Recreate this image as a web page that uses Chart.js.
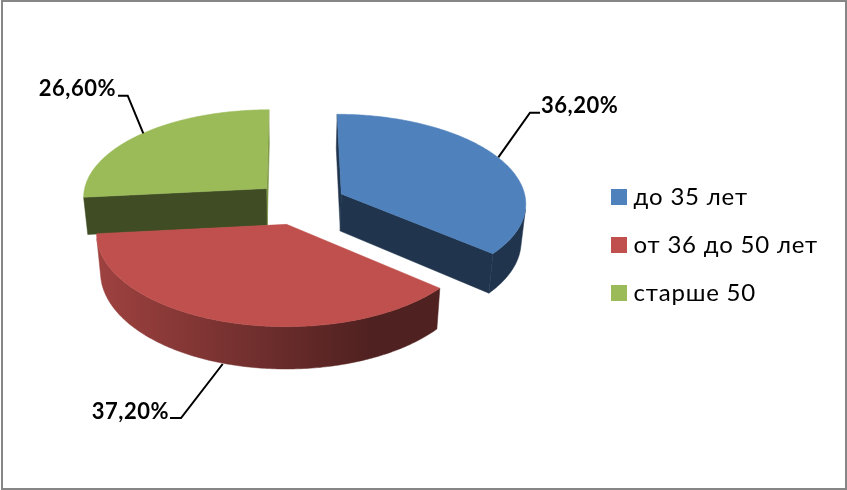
<!DOCTYPE html>
<html><head><meta charset="utf-8">
<style>html,body{margin:0;padding:0;background:#fff}canvas{display:block}</style>
<script src="https://cdn.jsdelivr.net/npm/chart.js@4/dist/chart.umd.min.js"></script>
</head><body><canvas id="c" width="847" height="490"></canvas>
<script>
const categories = ['до 35 лет', 'от 36 до 50 лет', 'старше 50'];
const shares = [36.2, 37.2, 26.6];
const colors = ['#4F81BD', '#C0504D', '#9BBB59'];

const FONT = 'Lato, "Open Sans", sans-serif';
const VIEW = {xv: 292, yh: -755, H: 958, k: 0.0925, x0: 8.3, R: 185, explode: 0.247, depth: 37.5, taper: 0.98};
const LEADERS = [
  {pts: [[540,112.7],[530,112.7],[498.3,157.3]], tx: 541, ty: 106, align: 'left'},
  {pts: [[170,418],[181,418],[222.7,364]], tx: 169, ty: 412, align: 'right'},
  {pts: [[118,95.7],[127.7,95.7],[143.3,133.3]], tx: 116, ty: 89, align: 'right'}
];

function rgb(hex, f) {
  const n = parseInt(hex.slice(1), 16);
  return `rgb(${Math.round((n >> 16) * f)},${Math.round(((n >> 8) & 255) * f)},${Math.round((n & 255) * f)})`;
}
function project(u, v, z) {
  const d = 1 - VIEW.k * v;
  let x = VIEW.xv + (VIEW.x0 + VIEW.R * u) / d;
  let y = VIEW.yh + VIEW.H / d;
  if (z) { x = VIEW.xv + (x - VIEW.xv) * VIEW.taper; y += VIEW.depth / d; }
  return [x, y];
}
function poly(ctx, pts, fill) {
  ctx.beginPath();
  pts.forEach((p, i) => i ? ctx.lineTo(p[0], p[1]) : ctx.moveTo(p[0], p[1]));
  ctx.closePath();
  ctx.fillStyle = fill; ctx.strokeStyle = fill; ctx.lineWidth = 0.5;
  ctx.fill(); ctx.stroke();
}
function area(q) {
  let s = 0;
  q.forEach((p, i) => { const r = q[(i + 1) % q.length]; s += p[0] * r[1] - r[0] * p[1]; });
  return s;
}
function swatch(color) {
  const s = document.createElement('canvas');
  s.width = 16; s.height = 16;
  const x = s.getContext('2d');
  x.fillStyle = color; x.fillRect(0, 0, 16, 16);
  return s;
}
const pie3d = {
  id: 'pie3d',
  beforeUpdate(chart) { chart.ctx.letterSpacing = '0.8px'; },
  beforeDraw(chart) {
    const c = chart.ctx;
    c.save(); c.fillStyle = '#fff'; c.fillRect(0, 0, 847, 490);
    c.fillStyle = '#868686';
    c.fillRect(1, 0, 845, 2); c.fillRect(1, 0, 2, 490); c.fillRect(845, 0, 2, 490); c.fillRect(1, 488, 846, 2);
    c.restore();
  },
  beforeDatasetDraw(chart, args) {
    const ctx = chart.ctx, arcs = args.meta.data;
    ctx.save();
    [2, 0, 1].forEach(i => {
      const a = arcs[i], base = a.options.backgroundColor;
      const s = a.startAngle, e = a.endAngle, mid = (s + e) / 2;
      const ax = Math.cos(mid) * VIEW.explode, ay = Math.sin(mid) * VIEW.explode;
      const rim = t => [ax + Math.cos(t), ay + Math.sin(t)];
      const P = (q, z) => project(q[0], q[1], z);
      const apex = [ax, ay];
      const flat = (q1, q2, shade) => {
        const quad = [P(q1, 0), P(q2, 0), P(q2, 1), P(q1, 1)];
        if (area(quad) > 0) poly(ctx, quad, rgb(base, shade));
      };
      flat(rim(s), apex, 0.41);
      flat(apex, rim(e), i === 2 ? 0.8 : 0.41);
      const grad = ctx.createLinearGradient(95, 0, 370, 0);
      grad.addColorStop(0, rgb(base, 0.83));
      grad.addColorStop(1, rgb(base, 0.41));
      const steps = 180, top = [P(apex, 0)], upper = [], lower = [];
      for (let n = 0; n < steps; n++) {
        const t1 = s + (e - s) * n / steps, t2 = s + (e - s) * (n + 1) / steps;
        const q = [P(rim(t2), 0), P(rim(t1), 0), P(rim(t1), 1), P(rim(t2), 1)];
        if (area(q) > 0) {
          if (!upper.length) { upper.push(q[1]); lower.push(q[2]); }
          upper.push(q[0]); lower.push(q[3]);
        }
      }
      if (upper.length) poly(ctx, upper.concat(lower.reverse()), grad);
      for (let n = 0; n <= steps; n++) top.push(P(rim(s + (e - s) * n / steps), 0));
      poly(ctx, top, base);
    });
    ctx.restore();
    return false;
  },
  afterDatasetsDraw(chart) {
    const ctx = chart.ctx;
    ctx.save();
    ctx.letterSpacing = '0.5px';
    ctx.strokeStyle = '#000'; ctx.lineWidth = 2; ctx.fillStyle = '#000';
    ctx.font = 'bold 22px ' + FONT; ctx.textBaseline = 'middle';
    LEADERS.forEach((l, i) => {
      ctx.beginPath();
      l.pts.forEach((p, n) => n ? ctx.lineTo(p[0], p[1]) : ctx.moveTo(p[0], p[1]));
      ctx.stroke();
      ctx.textAlign = l.align;
      ctx.fillText(shares[i].toFixed(2).replace('.', ',') + '%', l.tx, l.ty);
    });
    ctx.restore();
  }
};
new Chart(document.getElementById('c'), {
  type: 'pie',
  data: {labels: categories, datasets: [{data: shares, backgroundColor: colors, borderWidth: 0}]},
  plugins: [pie3d],
  options: {
    responsive: false, animation: false,
    layout: {padding: {top: 0, right: 19, bottom: 0, left: 0}},
    plugins: {
      tooltip: {enabled: false},
      legend: {position: 'right', align: 'center',
        labels: {boxWidth: 6, boxHeight: 16, padding: 24, usePointStyle: true, color: '#000',
          font: {family: FONT, size: 24},
          generateLabels: chart => categories.map((text, i) => ({
            text, index: i, hidden: false, fillStyle: colors[i], strokeStyle: colors[i],
            lineWidth: 0, fontColor: '#000', pointStyle: swatch(colors[i])
          }))}}
    }
  }
});
</script></body></html>
